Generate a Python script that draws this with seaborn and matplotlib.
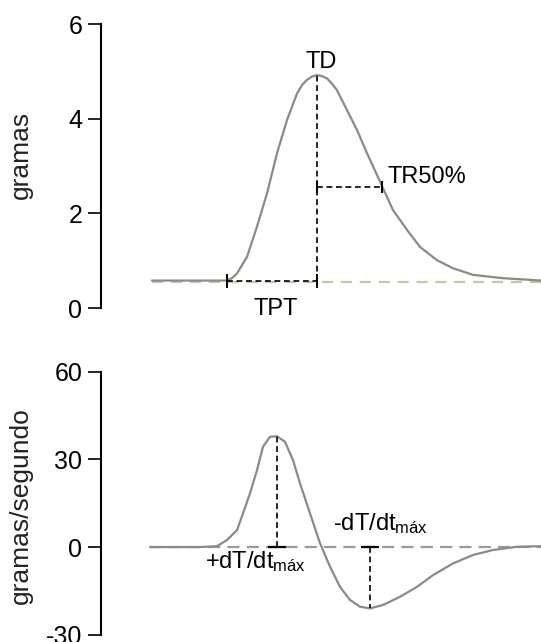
import matplotlib
matplotlib.use("Agg")
import matplotlib.pyplot as plt
import seaborn as sns

# Twitch force trace (time in ms, force in grams)
time_force = [2, 40, 77, 82, 87, 97, 107, 117, 127, 137, 147, 152, 157, 162, 167,
              172, 177, 182, 187, 197, 207, 217, 227, 233, 243, 257, 270, 287, 303,
              323, 353, 391]
force_g = [0.58, 0.58, 0.58, 0.63, 0.73, 1.08, 1.72, 2.42, 3.27, 3.97, 4.53, 4.71,
           4.82, 4.89, 4.92, 4.90, 4.85, 4.74, 4.60, 4.18, 3.76, 3.27, 2.81, 2.53,
           2.07, 1.65, 1.29, 1.01, 0.84, 0.70, 0.63, 0.58]

# First derivative of the force trace (grams per second)
time_rate = [0, 50, 67, 77, 87, 93, 100, 107, 113, 120, 127, 135, 143, 150, 160,
             170, 180, 190, 200, 210, 220, 233, 250, 267, 283, 303, 323, 343, 367, 391]
rate_gs = [0.0, 0.0, 0.3, 2.4, 5.8, 11.5, 18.4, 26.3, 34.3, 37.7, 37.9, 36.0, 29.7,
           21.8, 11.5, 1.3, -6.7, -13.6, -18.1, -20.4, -21.0, -19.8, -17.0, -13.6,
           -9.6, -5.6, -2.7, -1.0, 0.1, 0.3]

baseline_force = 0.55   # resting tension reference
onset_index = 2         # contraction onset sample
tr50_level = 2.56       # half-relaxation force
tr50_time = 232         # half-relaxation time

force_ticks = [0, 2, 4, 6]
rate_ticks = [-30, 0, 30, 60]

sns.set_theme(style="white")
plt.rcParams["font.family"] = ["Liberation Sans", "DejaVu Sans"]
plt.rcParams["mathtext.fontset"] = "custom"
plt.rcParams["mathtext.rm"] = "Liberation Sans"
plt.rcParams["mathtext.it"] = "Liberation Sans:italic"
plt.rcParams["mathtext.bf"] = "Liberation Sans:bold"
plt.rcParams["axes.unicode_minus"] = False

W, H = 541, 642
fig = plt.figure(figsize=(W / 100, H / 100), dpi=100)
ax1 = fig.add_axes([101 / W, 1 - 308 / H, 440 / W, 284 / H])
ax2 = fig.add_axes([101 / W, 1 - 634.8 / H, 440 / W, 263.2 / H])

trace_color = "#8a8a8a"
dash_black = (0, (3.5, 2.2))
ann_fs = 17

for ax, ticks, label in ((ax1, force_ticks, "gramas"),
                         (ax2, rate_ticks, "gramas/segundo")):
    ax.set_xlim(-49, 391)
    ax.set_ylim(ticks[0], ticks[-1])
    ax.set_yticks(ticks)
    ax.set_xticks([])
    for side in ("top", "right", "bottom"):
        ax.spines[side].set_visible(False)
    ax.spines["left"].set_color("black")
    ax.spines["left"].set_linewidth(1.5)
    ax.tick_params(axis="y", left=True, length=9.5, width=1.2, color="black",
                   labelsize=18, pad=4, labelcolor="black")
    ax.set_ylabel(label, fontsize=19, color="#222222")
    ax.patch.set_alpha(0)

ax1.yaxis.set_label_coords(-0.155, 0.54)
ax2.yaxis.set_label_coords(-0.155, 0.49)

# ---- force panel ----
ax1.plot([time_force[0], time_force[-1]], [baseline_force] * 2,
         color="#cdc4a6", lw=1.6, ls=(0, (5, 3.5)), zorder=1)
sns.lineplot(x=time_force, y=force_g, ax=ax1, color=trace_color, lw=1.6,
             estimator=None, sort=False, zorder=2)

peak_i = max(range(len(force_g)), key=lambda i: force_g[i])
peak_t, peak_v = time_force[peak_i], force_g[peak_i]
onset_t, onset_v = time_force[onset_index], force_g[onset_index]

# time to peak
ax1.plot([onset_t, peak_t], [onset_v, onset_v], color="black", lw=1.2,
         ls=dash_black, zorder=3)
ax1.plot([onset_t, peak_t], [onset_v, onset_v], ls="none", marker="|",
         ms=10, mew=1.4, color="black", zorder=4)
# developed tension
ax1.plot([peak_t, peak_t], [onset_v, peak_v], color="black", lw=1.2,
         ls=dash_black, zorder=3)
# half relaxation
ax1.plot([peak_t, tr50_time], [tr50_level, tr50_level], color="black", lw=1.2,
         ls=dash_black, zorder=3)
ax1.plot([peak_t, tr50_time], [tr50_level, tr50_level], ls="none", marker="|",
         ms=9, mew=1.4, color="black", zorder=4)

ax1.annotate("TD", xy=(peak_t, peak_v), xytext=(3, 5), textcoords="offset points",
             ha="center", va="baseline", fontsize=ann_fs, color="black")
ax1.annotate("TPT", xy=((onset_t + peak_t) / 2, onset_v), xytext=(2.5, -24.5),
             textcoords="offset points", ha="center", va="baseline",
             fontsize=ann_fs, color="black")
ax1.annotate("TR50%", xy=(tr50_time, tr50_level), xytext=(3.6, 2.7),
             textcoords="offset points", ha="left", va="baseline",
             fontsize=ann_fs, color="black")

# ---- derivative panel ----
ax2.plot([time_rate[0], time_rate[-1]], [0, 0], color="#9a9a9a", lw=1.6,
         ls=(0, (5.5, 3.2)), zorder=1)
sns.lineplot(x=time_rate, y=rate_gs, ax=ax2, color=trace_color, lw=1.6,
             estimator=None, sort=False, zorder=2)

max_i = max(range(len(rate_gs)), key=lambda i: rate_gs[i])
min_i = min(range(len(rate_gs)), key=lambda i: rate_gs[i])
tmax, vmax = time_rate[max_i], rate_gs[max_i]
tmin, vmin = time_rate[min_i], rate_gs[min_i]

ax2.plot([tmax, tmax], [0, vmax], color="black", lw=1.2, ls=dash_black, zorder=3)
ax2.plot([tmax], [0], ls="none", marker="_", ms=13, mew=1.6, color="black", zorder=4)
ax2.plot([tmin, tmin], [0, vmin], color="black", lw=1.2, ls=dash_black, zorder=3)
ax2.plot([tmin], [0], ls="none", marker="_", ms=13, mew=1.6, color="black", zorder=4)

ax2.annotate(r"+dT/dt$_{\mathrm{máx}}$", xy=(tmax, 0), xytext=(-51.6, -15.1),
             textcoords="offset points", ha="left", va="baseline",
             fontsize=ann_fs, color="black")
ax2.annotate(r"-dT/dt$_{\mathrm{máx}}$", xy=(tmin, 0), xytext=(-26.6, 12.2),
             textcoords="offset points", ha="left", va="baseline",
             fontsize=ann_fs, color="black")

fig.savefig("out.png", dpi=100)
